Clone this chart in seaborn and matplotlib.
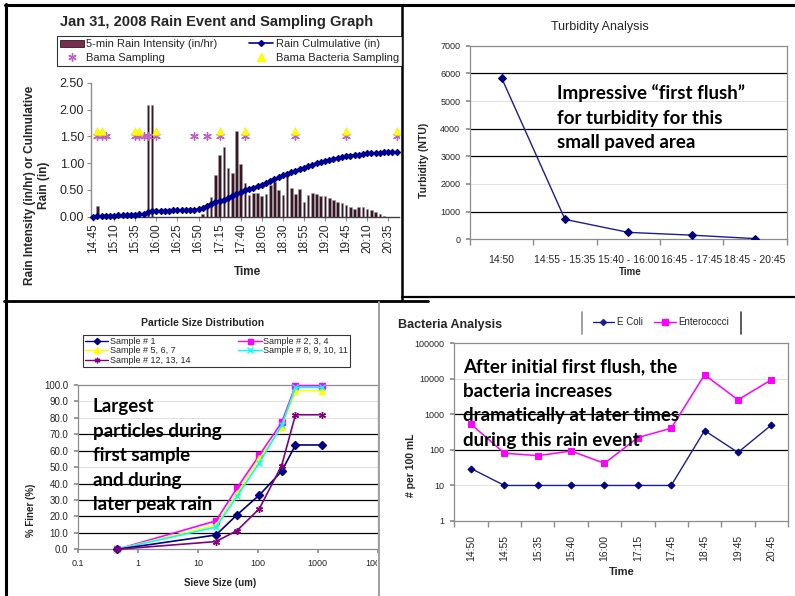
import numpy as np
import pandas as pd
import matplotlib
matplotlib.use("Agg")
import matplotlib.pyplot as plt
from matplotlib.lines import Line2D
from matplotlib.patches import Patch
from matplotlib.transforms import Bbox, TransformedBbox
from matplotlib.ticker import NullLocator
import seaborn as sns

sns.set_theme(style="white")
plt.rcParams["font.family"] = ["Liberation Sans", "DejaVu Sans"]
plt.rcParams["axes.unicode_minus"] = False

# ---------------- data: rain event ----------------
rain_times = list(pd.date_range("2008-01-31 14:45", "2008-01-31 20:45", freq="5min").strftime("%H:%M"))
rain_intensity = [
    0.00, 0.20, 0.00, 0.00, 0.00, 0.00, 0.00, 0.00, 0.00, 0.00,
    0.00, 0.00, 0.00, 2.08, 2.08, 0.00, 0.00, 0.00, 0.00, 0.00,
    0.00, 0.00, 0.00, 0.00, 0.00, 0.00, 0.05, 0.15, 0.37, 0.78,
    1.16, 1.30, 0.90, 0.81, 1.60, 0.98, 0.62, 0.40, 0.45, 0.45,
    0.38, 0.42, 0.60, 0.65, 0.50, 0.40, 0.75, 0.53, 0.42, 0.52,
    0.27, 0.40, 0.45, 0.43, 0.38, 0.38, 0.34, 0.32, 0.27, 0.25,
    0.22, 0.19, 0.15, 0.18, 0.18, 0.14, 0.13, 0.08, 0.05, 0.01,
    0.00, 0.00, 0.00]
rain_cumulative = [
    0.00, 0.01, 0.01, 0.02, 0.02, 0.02, 0.03, 0.03, 0.03, 0.04,
    0.04, 0.05, 0.05, 0.08, 0.10, 0.11, 0.11, 0.11, 0.11, 0.12,
    0.12, 0.12, 0.12, 0.13, 0.13, 0.14, 0.17, 0.20, 0.24, 0.27,
    0.30, 0.32, 0.35, 0.38, 0.42, 0.46, 0.49, 0.52, 0.54, 0.57,
    0.60, 0.63, 0.66, 0.70, 0.74, 0.77, 0.80, 0.83, 0.86, 0.89,
    0.91, 0.94, 0.97, 1.00, 1.02, 1.04, 1.06, 1.08, 1.10, 1.11,
    1.13, 1.14, 1.15, 1.16, 1.17, 1.18, 1.18, 1.19, 1.19, 1.20,
    1.20, 1.20, 1.20]
rain_tick_labels = ["14:45", "15:10", "15:35", "16:00", "16:25", "16:50", "17:15",
                    "17:40", "18:05", "18:30", "18:55", "19:20", "19:45", "20:10", "20:35"]
bama_sampling_times = ["14:50", "14:55", "15:00", "15:35", "15:40", "15:45", "15:50",
                       "16:00", "16:45", "17:00", "17:15", "17:45", "18:45", "19:45", "20:45"]
bama_sampling_level = 1.5
bacteria_sampling_times = ["14:50", "14:55", "15:35", "15:40", "16:00",
                           "17:15", "17:45", "18:45", "19:45", "20:45"]
bacteria_sampling_level = 1.6

# ---------------- data: turbidity ----------------
turb_categories = ["14:50", "14:55 - 15:35", "15:40 - 16:00", "16:45 - 17:45", "18:45 - 20:45"]
turb_values = [5830, 720, 250, 150, 25]

# ---------------- data: particle size ----------------
sieve_size = [0.45, 20, 45, 106, 250, 425, 1180]
sample_1 = [0.0, 8.7, 21.0, 33.0, 47.5, 63.5, 63.5]
sample_2_3_4 = [0.0, 17.3, 37.3, 57.3, 77.2, 99.6, 99.6]
sample_5_6_7 = [0.0, 14.7, 34.0, 55.3, 74.4, 96.5, 96.5]
sample_8_9_10_11 = [0.0, 13.5, 32.2, 52.7, 75.5, 98.5, 98.5]
sample_12_13_14 = [0.0, 4.7, 11.4, 24.7, 51.0, 81.9, 81.9]
sieve_ticks = [0.1, 1, 10, 100, 1000, 10000]
sieve_tick_labels = ["0.1", "1", "10", "100", "1000", "10000"]

# ---------------- data: bacteria ----------------
bact_times = ["14:50", "14:55", "15:35", "15:40", "16:00", "17:15", "17:45", "18:45", "19:45", "20:45"]
ecoli = [30, 10, 10, 10, 10, 10, 10, 350, 85, 500]
enterococci = [530, 81, 69, 93, 42, 222, 408, 13000, 2560, 9400]
bact_ticks = [1, 10, 100, 1000, 10000, 100000]
bact_tick_labels = ["1", "10", "100", "1000", "10000", "100000"]

W, H = 795, 596
fig = plt.figure(figsize=(W / 100, H / 100), dpi=100)
fig.patch.set_facecolor("white")


def add_ax(x0, y0, x1, y1):
    return fig.add_axes([x0 / W, 1 - y1 / H, (x1 - x0) / W, (y1 - y0) / H])


def ftext(x, y, s, **kw):
    return fig.text(x / W, 1 - y / H, s, **kw)


def fline(x0, y0, x1, y1, **kw):
    fig.add_artist(Line2D([x0 / W, x1 / W], [1 - y0 / H, 1 - y1 / H],
                          transform=fig.transFigure, **kw))


ANNOT = dict(family=["Lato", "DejaVu Sans"], weight="bold", fontsize=13.5,
             color="black", linespacing=1.54, ha="left", va="top")
GRAY = "#8c8c8c"

# ================= Panel 1: rain event =================
rain_df = pd.DataFrame({"pos": range(len(rain_times)), "time": rain_times,
                        "intensity": rain_intensity, "cumulative": rain_cumulative})
pos_of = {t: i for i, t in enumerate(rain_times)}
ax1 = add_ax(91, 82.7, 398.8, 216.7)
sns.barplot(data=rain_df, x="pos", y="intensity", native_scale=True, color="#3b1526",
            width=0.62, saturation=1, edgecolor="#a0a0a0", linewidth=0.4,
            errorbar=None, ax=ax1)
sns.lineplot(data=rain_df, x="pos", y="cumulative", color="#000090", lw=1.6,
             marker="D", markersize=3.2, mec="#000090", mfc="#000090",
             ax=ax1, clip_on=False, zorder=4)
sns.scatterplot(x=[pos_of[t] for t in bama_sampling_times],
                y=[bama_sampling_level] * len(bama_sampling_times),
                marker=(6, 2, 0), color="#c060c8", s=30, linewidth=1.0, ax=ax1, zorder=5)
sns.scatterplot(x=[pos_of[t] for t in bacteria_sampling_times],
                y=[bacteria_sampling_level] * len(bacteria_sampling_times),
                marker="^", color="#ffff00", edgecolor="#eeee00", s=30, ax=ax1,
                zorder=6, clip_on=False)
ax1.set_xlim(-0.5, len(rain_times) - 0.5)
ax1.set_ylim(0, 2.5)
ax1.set_xticks([pos_of[t] for t in rain_tick_labels])
ax1.set_xticklabels(rain_tick_labels, rotation=90, fontsize=8.5)
ax1.set_yticks([0, 0.5, 1.0, 1.5, 2.0, 2.5])
ax1.set_yticklabels(["0.00", "0.50", "1.00", "1.50", "2.00", "2.50"], fontsize=9)
ax1.tick_params(bottom=True, left=True, direction="out", length=3, width=0.8,
                color=GRAY, pad=2)
ax1.set_xlabel("")
ax1.set_ylabel("")
for s in ["top", "right"]:
    ax1.spines[s].set_visible(False)
ax1.spines["left"].set_color(GRAY)
ax1.spines["bottom"].set_color("#404040")
ax1.spines["left"].set_linewidth(1.0)
ax1.spines["bottom"].set_linewidth(1.0)

ftext(217, 22, "Jan 31, 2008 Rain Event and Sampling Graph", fontsize=10.5,
      weight="bold", ha="center", va="center")
ftext(247, 272, "Time", fontsize=8.5, weight="bold", ha="center", va="center")
ftext(37, 185, "Rain Intensity (in/hr) or Culmulative\nRain (in)", fontsize=8.5,
      weight="bold", rotation=90, ha="center", va="center", multialignment="center")

h_int = Patch(facecolor="#7b2d4f", edgecolor="#202020", linewidth=0.6)
h_cum = Line2D([], [], color="#000090", marker="D", markersize=3, lw=1.2)
h_bama = Line2D([], [], color="#c060c8", marker=(6, 2, 0), ls="none", markersize=6, mew=1)
h_bact = Line2D([], [], color="#ffff00", marker="^", ls="none", markersize=6)
leg1 = fig.legend([h_int, h_bama, h_cum, h_bact],
                  ["5-min Rain Intensity (in/hr)", "Bama Sampling",
                   "Rain Culmulative (in)", "Bama Bacteria Sampling"],
                  ncol=2, mode="expand", loc="upper left",
                  bbox_to_anchor=(57 / W, 1 - 69 / H, 345 / W, 33 / H),
                  fontsize=8, frameon=True, fancybox=False, borderaxespad=0,
                  handlelength=2.1, labelspacing=0.3, borderpad=0.3,
                  handletextpad=0.25, columnspacing=1.0)
leg1.get_frame().set_edgecolor("black")
leg1.get_frame().set_linewidth(0.8)

# ================= Panel 2: turbidity =================
turb_df = pd.DataFrame({"pos": range(len(turb_categories)), "turbidity": turb_values})
ax2 = add_ax(470, 45.7, 786.7, 239.3)
sns.lineplot(data=turb_df, x="pos", y="turbidity", color="#1c1c96", lw=1.0,
             marker="D", markersize=4, mec="#000080", mfc="#000080", ax=ax2, zorder=4)
ax2.set_xlim(-0.5, len(turb_categories) - 0.5)
ax2.set_ylim(0, 7000)
ax2.set_yticks(range(0, 7001, 1000))
ax2.set_yticklabels([str(v) for v in range(0, 7001, 1000)], fontsize=6.5)
ax2.set_xticks(range(len(turb_categories)))
ax2.set_xticklabels(turb_categories, fontsize=7.5)
ax2.set_xticks(np.arange(-0.5, len(turb_categories)), minor=True)
ax2.tick_params(axis="x", which="major", bottom=True, length=0, pad=11)
ax2.tick_params(axis="x", which="minor", bottom=True, length=4, color=GRAY, direction="out")
ax2.tick_params(axis="y", left=True, length=3, color=GRAY, direction="out", pad=4)
for v in [2000, 5000]:
    ax2.axhline(v, color="#d4d4d4", lw=0.5, zorder=1)
for v in [1000, 3000, 4000, 6000]:
    ax2.axhline(v, color="black", lw=0.9, zorder=1)
for s in ax2.spines.values():
    s.set_color(GRAY)
    s.set_linewidth(0.9)
ax2.set_xlabel("")
ax2.set_ylabel("")
ftext(600, 27, "Turbidity Analysis", fontsize=9, ha="center", va="center")
ftext(630, 272, "Time", fontsize=7, weight="bold", ha="center", va="center")
ftext(424, 160, "Turbidity (NTU)", fontsize=7.5, weight="bold", rotation=90,
      ha="center", va="center")
ftext(557, 84, "Impressive \u201cfirst flush\u201d\nfor turbidity for this\nsmall paved area", **ANNOT)

# ================= Panel 3: particle size =================
ax3 = add_ax(78, 385, 377.7, 549.3)
ps_series = [("Sample # 1", sample_1, "#000080", "D", 4),
             ("Sample # 5, 6, 7", sample_5_6_7, "#ffff00", "^", 5),
             ("Sample # 12, 13, 14", sample_12_13_14, "#800080", (6, 2, 0), 5),
             ("Sample # 2, 3, 4", sample_2_3_4, "#ff00ff", "s", 4.5),
             ("Sample # 8, 9, 10, 11", sample_8_9_10_11, "#00ffff", "x", 5)]
handles3 = []
for name, vals, col, mk, ms in ps_series:
    handles3.append(Line2D([], [], color=col, marker=mk, markersize=ms * 0.8, lw=1.0,
                           mec=col, mfc=col))
for i in [3, 1, 4, 0, 2]:
    name, vals, col, mk, ms = ps_series[i]
    sns.lineplot(x=sieve_size, y=vals, color=col, lw=1.2, marker=mk, markersize=ms,
                 mec=col, mfc=col, mew=1.0, sort=False, ax=ax3, zorder=4, clip_on=False)
ax3.set_xscale("log")
ax3.set_xlim(0.1, 10000)
ax3.set_ylim(0, 100)
ax3.xaxis.set_minor_locator(NullLocator())
ax3.set_xticks(sieve_ticks)
ax3.set_xticklabels(sieve_tick_labels, fontsize=6.5)
ax3.set_yticks(range(0, 101, 10))
ax3.set_yticklabels([f"{v:.1f}" for v in range(0, 101, 10)], fontsize=7)
ax3.tick_params(axis="both", bottom=True, left=True, length=3, color=GRAY,
                direction="out", pad=4)
for v in [50, 80, 90]:
    ax3.axhline(v, color="#d4d4d4", lw=0.5, zorder=1)
for v in [10, 20, 30, 40, 60, 70]:
    ax3.axhline(v, color="black", lw=0.9, zorder=1)
for s in ax3.spines.values():
    s.set_color(GRAY)
    s.set_linewidth(0.9)
ax3.set_xlabel("")
ax3.set_ylabel("")
clip_bb = TransformedBbox(Bbox.from_extents(0, 0, 377 / W, 1), fig.transFigure)
for lab in ax3.get_xticklabels():
    lab.set_clip_on(True)
    lab.set_clip_box(clip_bb)
ftext(203, 323, "Particle Size Distribution", fontsize=7.5, weight="bold",
      ha="center", va="center")
ftext(220, 583, "Sieve Size (um)", fontsize=7, weight="bold", ha="center", va="center")
ftext(31, 510, "% Finer (%)", fontsize=7, weight="bold", rotation=90,
      ha="center", va="center")
leg3 = fig.legend(handles3, [s[0] for s in ps_series], ncol=2, mode="expand",
                  loc="upper left", bbox_to_anchor=(83 / W, 1 - 367 / H, 267 / W, 32 / H),
                  fontsize=6.5, frameon=True, fancybox=False, borderaxespad=0,
                  handlelength=2.6, labelspacing=0.05, borderpad=0.2,
                  handletextpad=0.2, columnspacing=1.0)
leg3.get_frame().set_edgecolor("black")
leg3.get_frame().set_linewidth(0.8)
ftext(93, 398, "Largest\nparticles during\nfirst sample\nand during\nlater peak rain", **ANNOT)

# ================= Panel 4: bacteria =================
bact_df = pd.DataFrame({"pos": range(len(bact_times)), "ecoli": ecoli,
                        "enterococci": enterococci})
ax4 = add_ax(454.3, 343.3, 788, 521)
sns.lineplot(data=bact_df, x="pos", y="enterococci", color="#ff00ff", lw=1.1,
             marker="s", markersize=5, mec="#ff00ff", mfc="#ff00ff", ax=ax4, zorder=4)
sns.lineplot(data=bact_df, x="pos", y="ecoli", color="#1c1c96", lw=1.0,
             marker="D", markersize=3.5, mec="#000080", mfc="#000080", ax=ax4, zorder=5)
ax4.set_yscale("log")
ax4.set_ylim(1, 100000)
ax4.set_xlim(-0.5, len(bact_times) - 0.5)
ax4.yaxis.set_minor_locator(NullLocator())
ax4.set_yticks(bact_ticks)
ax4.set_yticklabels(bact_tick_labels, fontsize=6.5)
ax4.set_xticks(range(len(bact_times)))
ax4.set_xticklabels(bact_times, rotation=90, fontsize=7.5)
ax4.set_xticks(np.arange(-0.5, len(bact_times)), minor=True)
ax4.tick_params(axis="x", which="major", bottom=True, length=0, pad=10)
ax4.tick_params(axis="x", which="minor", bottom=True, length=4, color=GRAY, direction="out")
ax4.tick_params(axis="y", left=True, length=3, color=GRAY, direction="out", pad=4)
for v in [10, 10000]:
    ax4.axhline(v, color="#d4d4d4", lw=0.5, zorder=1)
for v in [100, 1000]:
    ax4.axhline(v, color="black", lw=0.9, zorder=1)
for s in ax4.spines.values():
    s.set_color(GRAY)
    s.set_linewidth(0.9)
ax4.set_xlabel("")
ax4.set_ylabel("")
ftext(398, 325, "Bacteria Analysis", fontsize=9, weight="bold", ha="left", va="center")
ftext(622, 572, "Time", fontsize=8, weight="bold", ha="center", va="center")
ftext(411, 465, "# per 100 mL", fontsize=7.5, weight="bold", rotation=90,
      ha="center", va="center")
h_ec = Line2D([], [], color="#1c1c96", marker="D", markersize=3, lw=1.0)
h_en = Line2D([], [], color="#ff00ff", marker="s", markersize=4, lw=1.0)
fig.legend([h_ec, h_en], ["E Coli", "Enterococci"], ncol=2, loc="center",
           bbox_to_anchor=(661 / W, 1 - 322 / H), fontsize=7, frameon=False,
           handlelength=2.2, handletextpad=0.3, columnspacing=1.2, borderaxespad=0)
fline(582, 312, 582, 334, color="#909090", lw=1.2)
fline(741, 312, 741, 334, color="#404040", lw=1.2)
ftext(463, 358, "After initial first flush, the\nbacteria increases\n"
      "dramatically at later times\nduring this rain event", **ANNOT)

# ================= slide frame =================
fline(5, 5, 795, 5, color="black", lw=2.2)
fline(5.5, 4, 5.5, 596, color="black", lw=2.2)
fline(402, 5, 402, 300, color="black", lw=1.8)
fline(402, 297, 795, 297, color="black", lw=1.6)
fline(4, 300.5, 428, 300.5, color="black", lw=2.0)
fline(378.5, 302, 378.5, 596, color="#a0a0a0", lw=1.4)

fig.savefig("out.png", dpi=100, facecolor="white")
